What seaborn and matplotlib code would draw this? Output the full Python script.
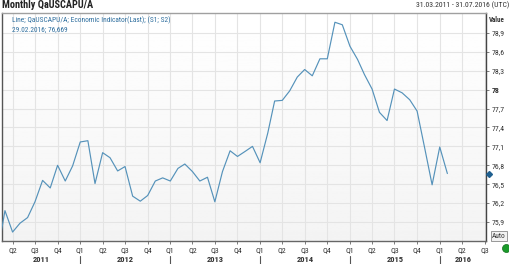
import numpy as np
import pandas as pd
import matplotlib
matplotlib.use("Agg")
import matplotlib.pyplot as plt
import matplotlib.transforms as mtransforms
from matplotlib import font_manager
from matplotlib.patches import Ellipse
import seaborn as sns

# ---- data ----
months = pd.date_range("2011-02-01", "2016-02-01", freq="MS")
values = [75.45, 76.08, 75.74, 75.88, 75.97, 76.22, 76.56, 76.44, 76.80, 76.55, 76.79,
          77.17, 77.19, 76.51, 77.00, 76.92, 76.71, 76.78, 76.31, 76.23, 76.32, 76.55, 76.60,
          76.55, 76.75, 76.82, 76.70, 76.55, 76.61, 76.22, 76.70, 77.03, 76.94, 77.02, 77.10,
          76.84, 77.31, 77.82, 77.83, 77.98, 78.20, 78.32, 78.22, 78.49, 78.49, 79.07, 79.03,
          78.69, 78.48, 78.24, 78.01, 77.64, 77.51, 78.01, 77.95, 77.84, 77.66, 77.07, 76.49,
          77.09, 76.669]
y_ticks = [75.9, 76.2, 76.5, 76.8, 77.1, 77.4, 77.7, 78.0, 78.3, 78.6, 78.9]
years = [2011, 2012, 2013, 2014, 2015, 2016]
title = "Monthly QaUSCAPU/A"
range_text = "31.03.2011 - 31.07.2016 (UTC)"
legend_line1 = "Line; QaUSCAPU/A; Economic Indicator(Last); (S1; S2)"
legend_line2 = "29.02.2016; 76,669"

df = pd.DataFrame({"date": months, "value": values})

sns.set_theme(style="white")

# pick a narrow font if one is installed
fl = font_manager.fontManager.ttflist
names = {f.name for f in fl}
family, stretch = "DejaVu Sans", "normal"
for cand in ["Liberation Sans Narrow", "Roboto Condensed", "Open Sans Condensed"]:
    if cand in names:
        family = cand
        break
else:
    if any(f.name == "DejaVu Sans" and f.stretch in ("condensed", "semi-condensed", 600, 700)
           for f in fl):
        stretch = "condensed"
    elif "Roboto" in names:
        family = "Roboto"
plt.rcParams["font.family"] = [family, "DejaVu Sans"]
plt.rcParams["font.stretch"] = stretch

W, H = 510, 264
fig = plt.figure(figsize=(W / 100, H / 100), dpi=100)
L, R, T, B = 2, 486, 13, 241
ax = fig.add_axes([L / W, 1 - B / H, (R - L) / W, (B - T) / H])

grad = np.linspace(1.0, 0.955, 256).reshape(-1, 1)
ax.imshow(grad, extent=[0, 1, 0, 1], transform=ax.transAxes, aspect="auto",
          cmap="gray", vmin=0, vmax=1, zorder=0, origin="upper")

sns.lineplot(data=df, x="date", y="value", ax=ax, color="#5592ba", linewidth=0.85, zorder=3)

x0 = pd.Timestamp("2011-02-17")
x1 = pd.Timestamp("2016-07-07")
ax.set_xlim(x0, x1)
ax.set_ylim(75.598, 79.217)
ax.set_xlabel("")
ax.set_ylabel("")

ax.yaxis.tick_right()
ax.set_yticks(y_ticks)
ax.set_yticklabels([("%g" % v).replace(".", ",") for v in y_ticks])
ax.tick_params(axis="y", right=True, length=2.5, width=0.6, color="#666666",
               labelsize=6, labelcolor="#333333", pad=1.5)

qticks = pd.date_range("2011-04-01", "2016-07-01", freq="QS")
ax.set_xticks(qticks)
ax.set_xticklabels(["Q%d" % ((d.month - 1) // 3 + 1) for d in qticks])
ax.tick_params(axis="x", bottom=True, length=2, width=0.6, color="#666666",
               labelsize=6, labelcolor="#333333", pad=2.5)

ax.grid(True, color="#e4e4e4", linewidth=0.8, zorder=1)
ax.set_axisbelow(True)

ax.spines["top"].set_color("#a0a0a0")
ax.spines["left"].set_color("#555555")
ax.spines["right"].set_color("#444444")
ax.spines["bottom"].set_color("#666666")
for s in ax.spines.values():
    s.set_linewidth(1)

bt = mtransforms.blended_transform_factory(ax.transData, fig.transFigure)
year_texts = []
for yr in years:
    a = max(pd.Timestamp(f"{yr}-01-01"), x0)
    b = min(pd.Timestamp(f"{yr + 1}-01-01"), x1)
    mid = a + (b - a) / 2
    year_texts.append(ax.text(mid, 1 - 259.5 / H, str(yr), transform=bt, ha="center",
                              va="center", fontsize=6, fontweight="bold",
                              color="#333333", clip_on=False))
    if yr > years[0]:
        sep = pd.Timestamp(f"{yr}-01-01")
        ax.plot([sep, sep], [1 - 256 / H, 0], transform=bt, color="#555555",
                linewidth=0.8, clip_on=False)

t_title = fig.text(2 / W, 1 - 5.5 / H, title, ha="left", va="center", fontsize=6.5,
                   fontweight="bold", color="#222222")
t_range = fig.text(509 / W, 1 - 5.5 / H, range_text, ha="right", va="center",
                   fontsize=5.5, color="#333333")
t_l1 = fig.text(12 / W, 1 - 20 / H, legend_line1, ha="left", va="center", fontsize=5.3,
                color="#2e6e9e")
t_l2 = fig.text(12 / W, 1 - 30.5 / H, legend_line2, ha="left", va="center", fontsize=5.3,
                color="#2e6e9e")
t_value = fig.text(497 / W, 1 - 20 / H, "Value", ha="center", va="center", fontsize=6,
                   fontweight="bold", color="#333333")
t_auto = fig.text(498.7 / W, 1 - 236 / H, "Auto", ha="center", va="center", fontsize=5.5,
                  color="#333333",
                  bbox=dict(boxstyle="square,pad=0.15", facecolor="#f2f2f2",
                            edgecolor="#888888", linewidth=0.6))

# fit text widths to the reference (pixels), slightly enlarged for legibility
fig.canvas.draw()
r = fig.canvas.get_renderer()
K = 1.15


def fit(t, target):
    w = t.get_window_extent(r).width
    t.set_fontsize(t.get_fontsize() * K * target / w)


fit(t_title, 80)
fit(t_range, 81)
fit(t_l1, 138)
t_l2.set_fontsize(t_l1.get_fontsize())
fit(t_value, 14)
fit(t_auto, 12)
for yt in year_texts:
    fit(yt, 15)

lab = [l for l in ax.get_yticklabels() if l.get_text() == "78,9"][0]
ysz = 6 * K * 11.5 / lab.get_window_extent(r).width
lab = ax.get_xticklabels()[0]
xsz = 6 * K * 7.5 / lab.get_window_extent(r).width
ax.tick_params(axis="y", labelsize=ysz)
ax.tick_params(axis="x", labelsize=xsz)
for lab in ax.get_yticklabels():
    if lab.get_text() == "78":
        lab.set_fontweight("bold")

mt = mtransforms.blended_transform_factory(ax.transAxes, ax.transData)
ax.plot([(489.3 - L) / (R - L)], [values[-1]], marker="D", markersize=3,
        color="#1f5f8f", transform=mt, clip_on=False, zorder=5)

fig.add_artist(Ellipse((506.5 / W, 1 - 248.5 / H), 8 / W, 8 / H,
                       transform=fig.transFigure, facecolor="#1a9a2a",
                       edgecolor="#0f6f1a", linewidth=0.5))

fig.savefig("out.png", dpi=100)
